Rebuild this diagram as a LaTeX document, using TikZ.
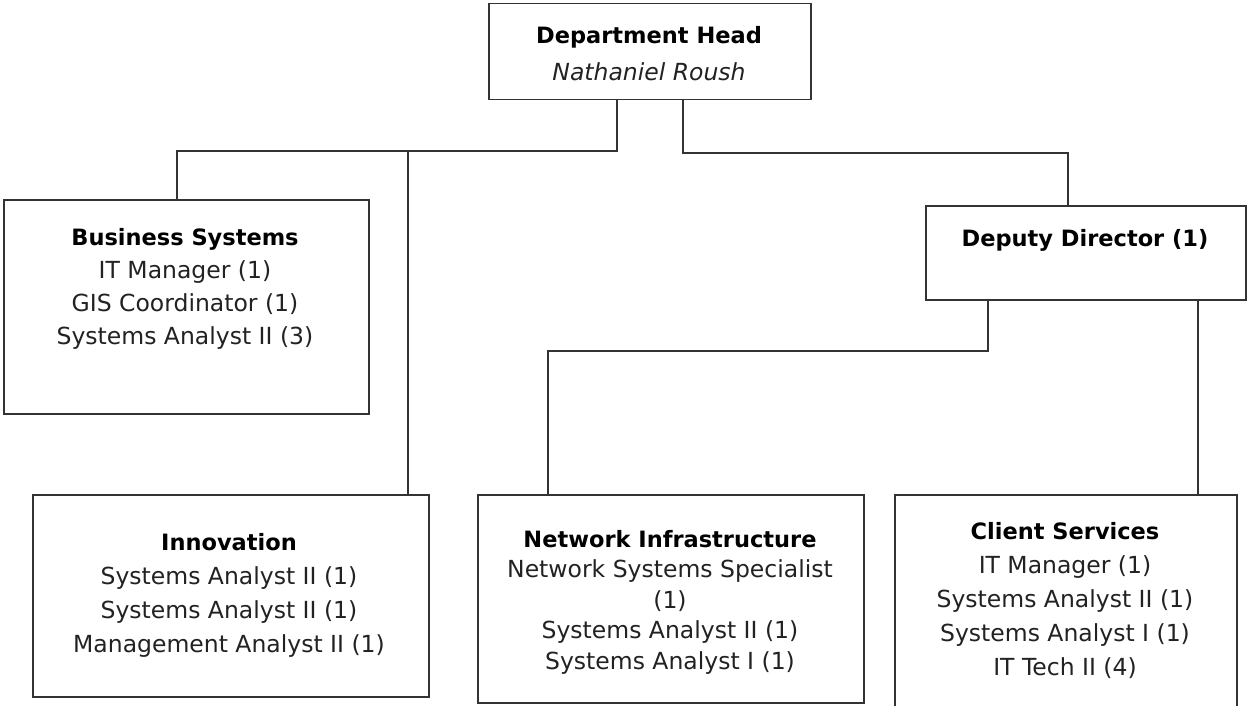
\documentclass[tikz,border=0pt]{standalone}
\usepackage{fontspec}
\setmainfont{DejaVu Sans}
\definecolor{linegray}{HTML}{333333}
\definecolor{textgray}{HTML}{222222}
\newcommand\hdtext[1]{\textcolor{black}{\fontsize{22.5}{\baselineskip}\selectfont\bfseries #1}}
\begin{document}
\begin{tikzpicture}[x=1pt,y=-1pt,
  box/.style={draw=linegray, line width=1.5pt, inner sep=0pt, anchor=north west},
  txt/.style={align=center, text=textgray, inner sep=0pt, font=\fontsize{23.5}{34}\selectfont},
  conn/.style={draw=linegray, line width=1.5pt}]
\useasboundingbox (0,0) rectangle (1247,706);
\clip (0,0) rectangle (1247,706);
\fill[white] (0,0) rectangle (1247,706);
% boxes
\node[box, minimum width=322pt, minimum height=96pt] (head) at (488,3) {};
\node[box, minimum width=365pt, minimum height=214pt] (bus) at (3,199) {};
\node[box, minimum width=320pt, minimum height=94pt] (dep) at (925,205) {};
\node[box, minimum width=396pt, minimum height=202pt] (inn) at (32,494) {};
\node[box, minimum width=386pt, minimum height=208pt] (net) at (477,494) {};
\node[box, minimum width=342pt, minimum height=240pt] (cli) at (894,494) {};
% texts
\node[txt, font=\fontsize{23.5}{37}\selectfont] (headt) at (649,54) {\hdtext{Department Head}\\\textit{Nathaniel Roush}};
\node[txt, font=\fontsize{23.5}{33}\selectfont] (bust) at (185,289) {\hdtext{Business Systems}\\IT Manager (1)\\GIS Coordinator (1)\\Systems Analyst II (3)};
\node[txt] (dept) at (1085,240) {\hdtext{Deputy Director (1)}};
\node[txt] (innt) at (229,595) {\hdtext{Innovation}\\Systems Analyst II (1)\\Systems Analyst II (1)\\Management Analyst II (1)};
\node[txt, font=\fontsize{23.5}{30.5}\selectfont] (nett) at (670,602) {\hdtext{Network Infrastructure}\\Network Systems Specialist\\(1)\\Systems Analyst II (1)\\Systems Analyst I (1)};
\node[txt] (clit) at (1065,600) {\hdtext{Client Services}\\IT Manager (1)\\Systems Analyst II (1)\\Systems Analyst I (1)\\IT Tech II (4)};
% junction coordinates
\coordinate (j1) at (617,151);
\coordinate (j2) at (177,151);
\coordinate (j3) at (408,151);
\coordinate (k1) at (683,153);
\coordinate (k2) at (1068,153);
\coordinate (m1) at (988,351);
\coordinate (m2) at (548,351);
\coordinate (n1) at (1198,351);
% connectors
\draw[conn] (head.south -| j1) -- (j1) -- (j2) -- (bus.north -| j2);
\draw[conn] (j3) -- (inn.north -| j3);
\draw[conn] (head.south -| k1) -- (k1) -- (k2) -- (dep.north -| k2);
\draw[conn] (dep.south -| m1) -- (m1) -- (m2) -- (net.north -| m2);
\draw[conn] (dep.south -| n1) -- (cli.north -| n1);
\end{tikzpicture}
\end{document}
